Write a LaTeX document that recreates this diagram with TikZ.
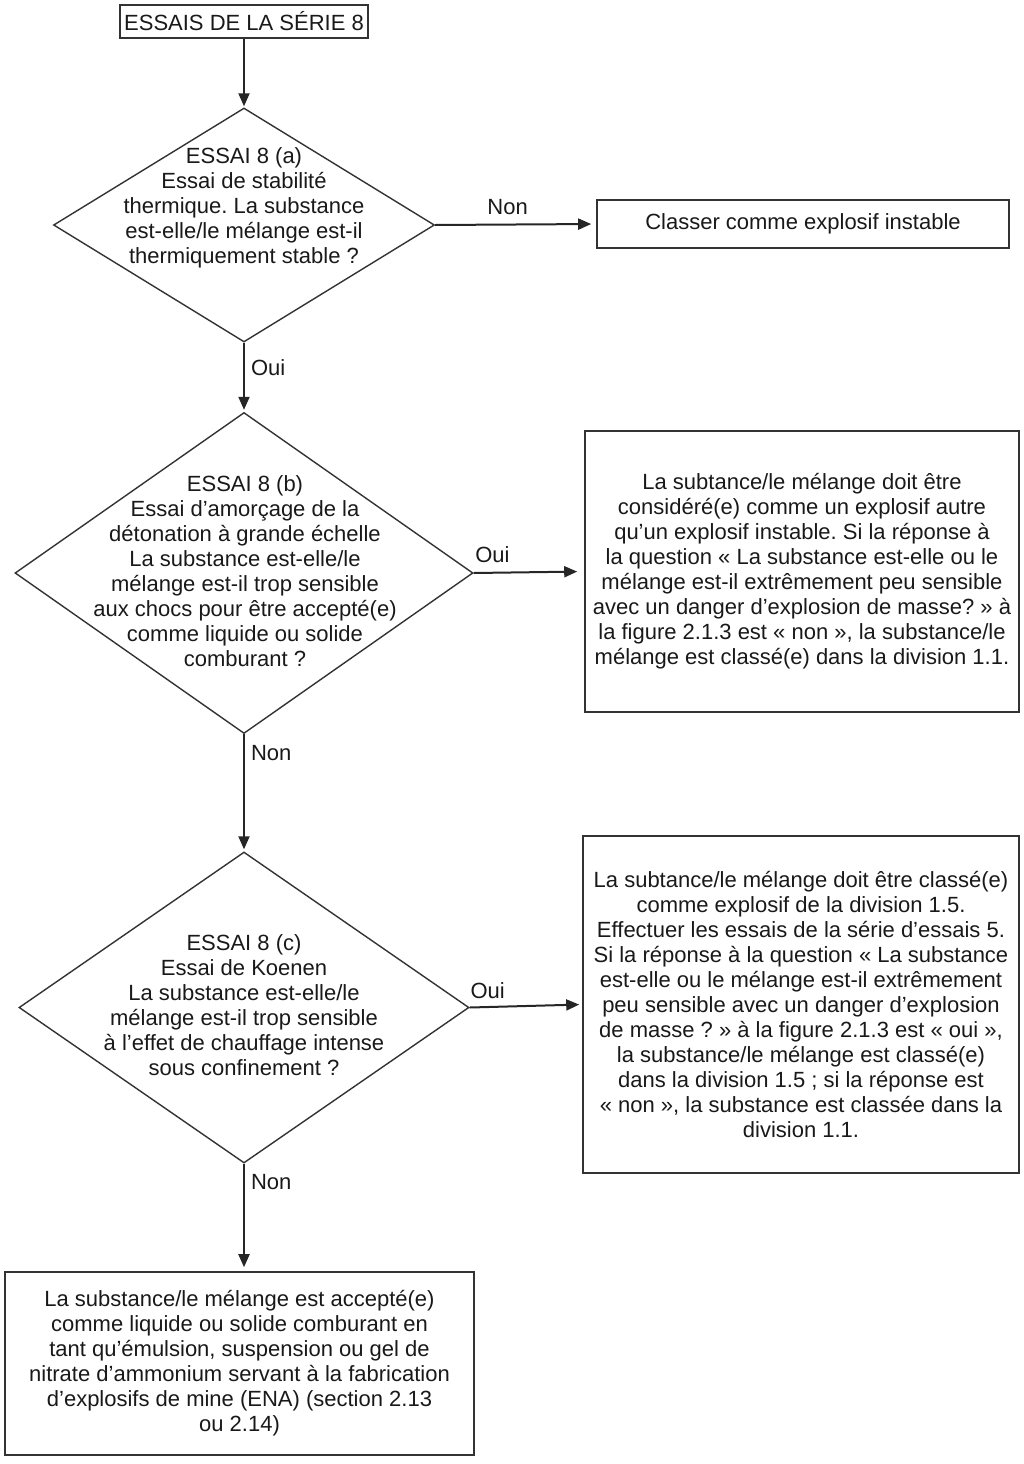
\documentclass[tikz,border=0pt]{standalone}
\usepackage{fontspec}
\setmainfont{Liberation Sans}
\usetikzlibrary{shapes.geometric,arrows.meta}
\begin{document}
\frenchspacing
\begin{tikzpicture}[x=1pt,y=-1pt,
  every node/.style={font=\fontsize{22}{25}\selectfont, text=black!90},
  boxnode/.style={draw=black!80, line width=1.6pt, rectangle, inner sep=0pt, align=center},
  dia/.style={draw=black!80, line width=1.4pt, diamond, inner sep=0pt},
  dtext/.style={align=center, inner sep=0pt},
  arr/.style={draw=black!85, line width=2pt, -{Triangle[length=13pt,width=11pt]}},
  lbl/.style={inner sep=2pt}]
\useasboundingbox (0,0) rectangle (1023,1464);

\node[boxnode, minimum width=248pt, minimum height=33pt] (title) at (244,21.5) {ESSAIS DE LA SÉRIE 8};

\node[dia, minimum width=381pt, minimum height=234pt] (d1) at (244,225) {};
\node[dtext] (t1) at (244,208) {ESSAI 8 (a)\\Essai de stabilité\\thermique. La substance\\est-elle/le mélange est-il\\thermiquement stable ?};

\node[boxnode, minimum width=412pt, minimum height=48pt] (b1) at (803,224) {Classer comme explosif instable};

\node[dia, minimum width=458pt, minimum height=321pt] (d2) at (244,573) {};
\node[dtext] (t2) at (245,571) {ESSAI 8 (b)\\Essai d’amorçage de la\\détonation à grande échelle\\La substance est-elle/le\\mélange est-il trop sensible\\aux chocs pour être accepté(e)\\comme liquide ou solide\\comburant ?};

\node[boxnode, minimum width=434pt, minimum height=281pt] (b2) at (802,571.5) {La subtance/le mélange doit être\\considéré(e) comme un explosif autre\\qu’un explosif instable. Si la réponse à\\la question « La substance est-elle ou le\\mélange est-il extrêmement peu sensible\\avec un danger d’explosion de masse? » à\\la figure 2.1.3 est « non », la substance/le\\mélange est classé(e) dans la division 1.1.};

\node[dia, minimum width=450pt, minimum height=311pt] (d3) at (244,1007.5) {};
\node[dtext] (t3) at (244,1005) {ESSAI 8 (c)\\Essai de Koenen\\La substance est-elle/le\\mélange est-il trop sensible\\à l’effet de chauffage intense\\sous confinement ?};

\node[boxnode, minimum width=436pt, minimum height=337pt] (b3) at (801,1004.5) {La subtance/le mélange doit être classé(e)\\comme explosif de la division 1.5.\\Effectuer les essais de la série d’essais 5.\\Si la réponse à la question « La substance\\est-elle ou le mélange est-il extrêmement\\peu sensible avec un danger d’explosion\\de masse ? » à la figure 2.1.3 est « oui »,\\la substance/le mélange est classé(e)\\dans la division 1.5 ; si la réponse est\\« non », la substance est classée dans la\\division 1.1.};

\node[boxnode, minimum width=469pt, minimum height=183pt] (b4) at (239.5,1363.5) {La substance/le mélange est accepté(e)\\comme liquide ou solide comburant en\\tant qu’émulsion, suspension ou gel de\\nitrate d’ammonium servant à la fabrication\\d’explosifs de mine (ENA) (section 2.13\\ou 2.14)};

\draw[arr, shorten >=1pt] (title.south) -- (d1.north);
\draw[arr, shorten >=5pt] (d1.east) -- node[lbl, pos=0.45, above=7pt] (l1) {Non} (b1.west);
\draw[arr, shorten >=2pt] (d1.south) -- node[lbl, pos=0.36, right=4pt] (l2) {Oui} (d2.north);
\draw[arr, shorten >=7pt] (d2.east) -- node[lbl, pos=0.17, above=7pt] (l3) {Oui} (b2.west);
\draw[arr, shorten >=2pt] (d2.south) -- node[lbl, pos=0.16, right=4pt] (l4) {Non} (d3.north);
\draw[arr, shorten >=3pt] (d3.east) -- node[lbl, pos=0.16, above=5pt] (l5) {Oui} (b3.west);
\draw[arr, shorten >=4pt] (d3.south) -- node[lbl, pos=0.17, right=4pt] (l6) {Non} (d3.south |- b4.north);
\end{tikzpicture}
\end{document}
